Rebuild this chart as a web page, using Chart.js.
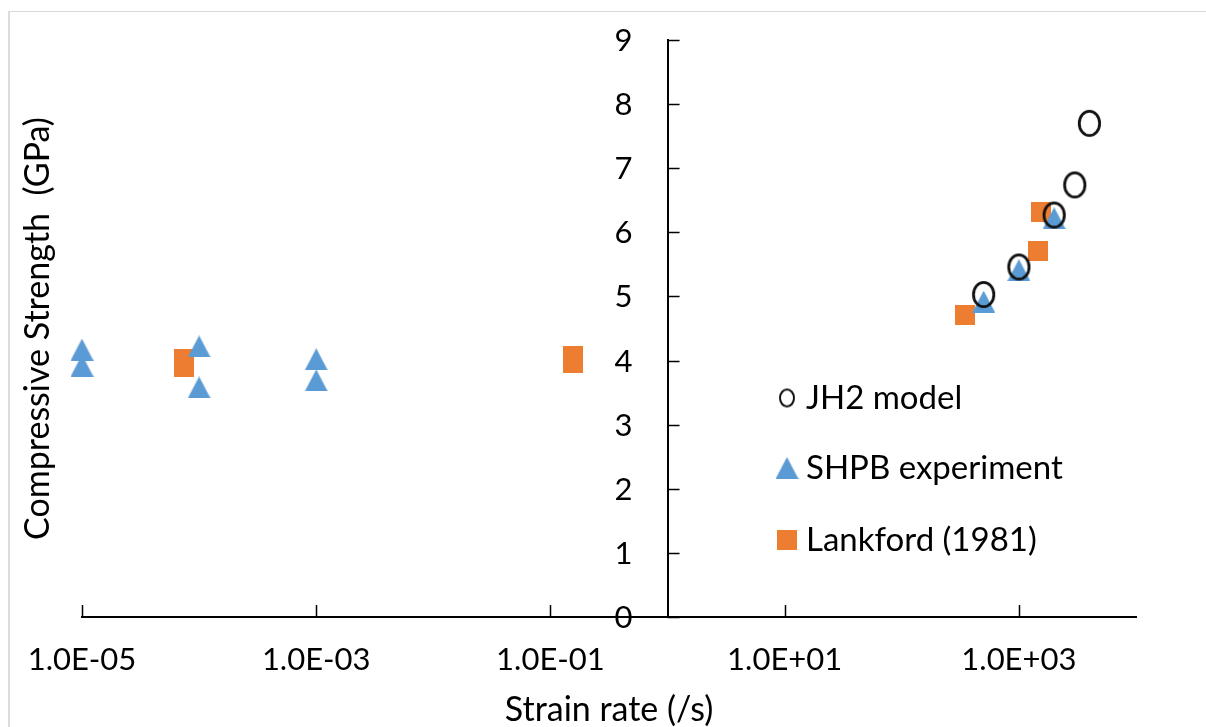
<!DOCTYPE html>
<html>
<head>
<meta charset="utf-8">
<script src="https://cdn.jsdelivr.net/npm/chart.js@4.4.1/dist/chart.umd.min.js"></script>
<style>
  body { margin: 0; background: #fff; }
  #wrap { position: relative; width: 1206px; height: 727px; overflow: hidden; }
  #frame { position: absolute; left: 8px; top: 11px; width: 1300px; height: 800px;
           border-left: 2px solid #dcdcdc; border-top: 1px solid #d9d9d9; }
  canvas { position: absolute; left: 0; top: 0; }
</style>
</head>
<body>
<div id="wrap">
  <div id="frame"></div>
  <canvas id="strengthChart" width="1206" height="727"></canvas>
</div>
<script>
// strain rate (/s) vs compressive strength (GPa)
const jh2Rate = [500, 1000, 2000, 3000, 4000];
const jh2Strength = [5.03, 5.46, 6.27, 6.74, 7.70];

const shpbRate = [1e-5, 1e-5, 1e-4, 1e-4, 1e-3, 1e-3, 500, 1000, 2000];
const shpbStrength = [4.17, 3.92, 4.22, 3.58, 4.02, 3.69, 4.92, 5.41, 6.22];

const lankfordRate = [7.4e-5, 7.4e-5, 0.157, 0.157, 350, 1450, 1550];
const lankfordStrength = [4.02, 3.90, 4.07, 3.96, 4.71, 5.71, 6.32];

const xTicks = [1e-5, 1e-3, 1e-1, 1e1, 1e3];
const seriesNames = ['JH2 model', 'SHPB experiment', 'Lankford (1981)'];

const FONT = 'Lato, "Open Sans", sans-serif';

function toPoints(xs, ys) {
  return xs.map((x, i) => ({ x: x, y: ys[i] }));
}

function sciLabel(v) {
  const parts = Number(v).toExponential(1).split('e');
  const n = parseInt(parts[1], 10);
  return parts[0] + 'E' + (n < 0 ? '-' : '+') + String(Math.abs(n)).padStart(2, '0');
}

function marker(w, h, draw) {
  const c = document.createElement('canvas');
  c.width = w;
  c.height = h;
  draw(c.getContext('2d'), w, h);
  return c;
}

const circleMark = marker(25, 29, (ctx, w, h) => {
  ctx.strokeStyle = '#111';
  ctx.lineWidth = 2.8;
  ctx.beginPath();
  ctx.ellipse(w / 2, h / 2, 10.2, 12.2, 0, 0, Math.PI * 2);
  ctx.stroke();
});
const circleLegend = marker(18, 21, (ctx, w, h) => {
  ctx.strokeStyle = '#111';
  ctx.lineWidth = 2;
  ctx.beginPath();
  ctx.ellipse(w / 2, h / 2, 7, 8.5, 0, 0, Math.PI * 2);
  ctx.stroke();
});
const triangleMark = marker(23, 22, (ctx, w, h) => {
  ctx.fillStyle = '#5B9BD5';
  ctx.beginPath();
  ctx.moveTo(w / 2, 0);
  ctx.lineTo(w, h);
  ctx.lineTo(0, h);
  ctx.closePath();
  ctx.fill();
});
const squareMark = marker(20, 20, (ctx, w, h) => {
  ctx.fillStyle = '#ED7D31';
  ctx.fillRect(0, 0, w, h);
});

// ticks inside the axes, y labels + title, and the legend inside the plot
const extras = {
  id: 'extras',
  afterDraw(chart) {
    const ctx = chart.ctx;
    const xs = chart.scales.x;
    const ys = chart.scales.y;
    const axisX = xs.getPixelForValue(1);
    const axisY = ys.getPixelForValue(0);
    ctx.save();
    ctx.strokeStyle = '#000';
    ctx.lineWidth = 1.5;
    xs.ticks.forEach(t => {
      const px = Math.round(xs.getPixelForValue(t.value)) + 0.5;
      ctx.beginPath();
      ctx.moveTo(px, axisY);
      ctx.lineTo(px, axisY - 12);
      ctx.stroke();
    });
    ctx.fillStyle = '#000';
    ctx.font = '31px ' + FONT;
    ctx.textAlign = 'right';
    ctx.textBaseline = 'middle';
    ys.ticks.forEach(t => {
      const py = Math.round(ys.getPixelForValue(t.value)) + 0.5;
      ctx.beginPath();
      ctx.moveTo(axisX, py);
      ctx.lineTo(axisX + 12, py);
      ctx.stroke();
      ctx.fillText(String(t.value), axisX - 35, py);
    });

    ctx.font = '34px ' + FONT;
    ctx.textAlign = 'center';
    ctx.translate(38, (chart.chartArea.top + chart.chartArea.bottom) / 2);
    ctx.rotate(-Math.PI / 2);
    ctx.fillText('Compressive Strength  (GPa)', 0, 0);
    ctx.restore();

    const marks = [circleLegend, triangleMark, squareMark];
    const rows = [398, 468, 540];
    ctx.save();
    ctx.font = '33px ' + FONT;
    ctx.fillStyle = '#000';
    ctx.textBaseline = 'middle';
    ctx.textAlign = 'left';
    seriesNames.forEach((name, i) => {
      const m = marks[i];
      ctx.drawImage(m, 787 - m.width / 2, rows[i] - m.height / 2);
      ctx.fillText(name, 806, rows[i]);
    });
    ctx.restore();
  }
};

new Chart(document.getElementById('strengthChart'), {
  type: 'scatter',
  data: {
    datasets: [{
      label: seriesNames[0],
      data: toPoints(jh2Rate, jh2Strength),
      pointStyle: circleMark,
      pointRadius: 10,
      clip: false
    }, {
      label: seriesNames[1],
      data: toPoints(shpbRate, shpbStrength),
      pointStyle: triangleMark,
      pointRadius: 10,
      clip: false
    }, {
      label: seriesNames[2],
      data: toPoints(lankfordRate, lankfordStrength),
      pointStyle: squareMark,
      pointRadius: 10,
      clip: false
    }]
  },
  options: {
    responsive: false,
    devicePixelRatio: 1,
    animation: false,
    layout: { padding: { left: 82, right: 70, top: 40, bottom: 0 } },
    plugins: {
      legend: { display: false },
      tooltip: { enabled: false }
    },
    scales: {
      x: {
        type: 'logarithmic',
        min: 1e-5,
        max: 1e4,
        afterBuildTicks: scale => {
          scale.ticks = xTicks.map(v => ({ value: v }));
        },
        afterFit: scale => { scale.height = 110; },
        grid: { drawOnChartArea: false, drawTicks: false },
        border: { display: true, color: '#000', width: 2 },
        ticks: {
          autoSkip: false,
          maxRotation: 0,
          padding: 24,
          color: '#000',
          font: { family: FONT, size: 31 },
          callback: v => sciLabel(v)
        },
        title: {
          display: true,
          text: 'Strain rate (/s)',
          color: '#000',
          font: { family: FONT, size: 34 },
          padding: { top: 0, bottom: -3 }
        }
      },
      y: {
        position: { x: 1 },
        min: 0,
        max: 9,
        afterFit: scale => { scale.width = 0; },
        grid: { drawOnChartArea: false, drawTicks: false },
        border: { display: true, color: '#000', width: 2 },
        ticks: {
          display: false,
          stepSize: 1
        }
      }
    }
  },
  plugins: [extras]
});
</script>
</body>
</html>
